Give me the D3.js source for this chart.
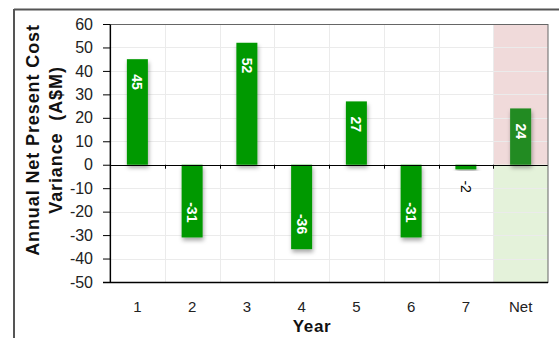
<!DOCTYPE html>
<html>
<head>
<meta charset="utf-8">
<script src="https://cdn.jsdelivr.net/npm/d3@7"></script>
<style>
  html, body { margin: 0; padding: 0; background: #fff; }
  svg { display: block; font-family: "Liberation Sans", Arial, sans-serif; }
  .pre { white-space: pre; }
</style>
</head>
<body>
<svg id="chart" width="559" height="338"></svg>
<script>
// Yearly NPC variance, plus the net total
const years = ["1", "2", "3", "4", "5", "6", "7", "Net"];
const variance = [45, -31, 52, -36, 27, -31, -2, 24];
const yTicks = [60, 50, 40, 30, 20, 10, 0, -10, -20, -30, -40, -50];
const yTitleLines = ["Annual Net Present Cost", "Variance  (A$M)"];
const xTitle = "Year";

const svg = d3.select("#chart");
const plot = { left: 110, top: 24, right: 548, bottom: 282 };

const x = d3.scaleBand().domain(years).range([plot.left, plot.right]);
const y = d3.scaleLinear().domain([-50, 60]).range([plot.bottom, plot.top]);

// soft drop shadow under bars
const defs = svg.append("defs");
const f = defs.append("filter").attr("id", "shadow")
  .attr("x", "-30%").attr("y", "-30%").attr("width", "160%").attr("height", "160%");
f.append("feDropShadow").attr("dx", 1).attr("dy", 3).attr("stdDeviation", 2)
  .attr("flood-color", "#000").attr("flood-opacity", 0.35);

// outer frame
svg.append("line").attr("x1", 14).attr("x2", 559).attr("y1", 9.5).attr("y2", 9.5)
  .attr("stroke", "#555").attr("stroke-width", 2);
svg.append("line").attr("x1", 14).attr("x2", 14).attr("y1", 9).attr("y2", 338)
  .attr("stroke", "#555").attr("stroke-width", 2);

// net column shading: pink above zero, pale green below
const netX = x("Net");
svg.append("rect").attr("x", netX).attr("y", y(60)).attr("width", plot.right - netX)
  .attr("height", y(0) - y(60)).attr("fill", "#f0dada");
svg.append("rect").attr("x", netX).attr("y", y(0)).attr("width", plot.right - netX)
  .attr("height", y(-50) - y(0)).attr("fill", "#e4f2da");

// grid
svg.append("g").selectAll("line").data(yTicks).join("line")
  .attr("x1", plot.left).attr("x2", plot.right)
  .attr("y1", d => Math.round(y(d)) + 0.5).attr("y2", d => Math.round(y(d)) + 0.5)
  .attr("stroke", "#ebebeb").attr("stroke-width", 1);
svg.append("g").selectAll("line").data(years.slice(1)).join("line")
  .attr("x1", d => Math.round(x(d)) + 0.5).attr("x2", d => Math.round(x(d)) + 0.5)
  .attr("y1", plot.top).attr("y2", plot.bottom)
  .attr("stroke", "#ebebeb").attr("stroke-width", 1);

// bars
const bw = 21;
svg.append("g").selectAll("rect").data(years).join("rect")
  .attr("x", d => x(d) + x.bandwidth() / 2 - bw / 2)
  .attr("y", (d, i) => y(Math.max(0, variance[i])))
  .attr("width", bw)
  .attr("height", (d, i) => Math.abs(y(variance[i]) - y(0)))
  .attr("fill", d => d === "Net" ? "#228b22" : "#009900")
  .attr("filter", "url(#shadow)");

// small ticks at band boundaries below the zero line
svg.append("g").selectAll("line").data(years.slice(1)).join("line")
  .attr("x1", d => Math.round(x(d)) + 0.5).attr("x2", d => Math.round(x(d)) + 0.5)
  .attr("y1", y(0)).attr("y2", y(0) + 4)
  .attr("stroke", "#000").attr("stroke-width", 1);

// zero line
svg.append("line").attr("x1", plot.left).attr("x2", plot.right)
  .attr("y1", Math.round(y(0)) + 0.5).attr("y2", Math.round(y(0)) + 0.5)
  .attr("stroke", "#000").attr("stroke-width", 1.2);

// plot border
svg.append("rect").attr("x", plot.left).attr("y", plot.top + 0.5)
  .attr("width", plot.right - plot.left).attr("height", plot.bottom - plot.top)
  .attr("fill", "none").attr("stroke", "#666").attr("stroke-width", 1);

// value labels, rotated to read top to bottom
svg.append("g").selectAll("text").data(years).join("text")
  .each(function (d, i) {
    const v = variance[i];
    const cx = x(d) + x.bandwidth() / 2;
    const barLen = Math.abs(y(v) - y(0));
    const sel = d3.select(this);
    sel.attr("font-size", 14).attr("font-weight", "bold").attr("dominant-baseline", "central");
    if (barLen > 30) {
      let ty;
      if (v >= 0) { ty = y(v) + 15; sel.attr("text-anchor", "start"); }
      else { ty = y(v) - 15; sel.attr("text-anchor", "end"); }
      sel.attr("fill", "#fff")
        .attr("transform", `translate(${cx},${ty}) rotate(90)`);
    } else {
      const ty = y(v) + 11;
      sel.attr("fill", "#000").attr("font-weight", "normal").attr("text-anchor", "start")
        .attr("transform", `translate(${cx},${ty}) rotate(90)`);
    }
    sel.text(String(v));
  });

// y axis
const yAxis = svg.append("g").attr("transform", `translate(${plot.left},0)`)
  .call(d3.axisLeft(y).tickValues(yTicks).tickFormat(d => String(d))
    .tickSize(7).tickPadding(10).tickSizeOuter(0));
yAxis.select(".domain").attr("stroke", "#000").attr("stroke-width", 1.2);
yAxis.selectAll(".tick line").attr("stroke", "#000");
yAxis.selectAll(".tick text").attr("fill", "#222")
  .style("font-size", "16px")
  .style("font-family", "'Liberation Sans', Arial, sans-serif");

// bottom rule
svg.append("line").attr("x1", plot.left - 7).attr("x2", plot.right)
  .attr("y1", plot.bottom + 0.5).attr("y2", plot.bottom + 0.5)
  .attr("stroke", "#000").attr("stroke-width", 1.6);

// x category labels
svg.append("g").selectAll("text").data(years).join("text")
  .attr("x", d => x(d) + x.bandwidth() / 2)
  .attr("y", 312)
  .attr("text-anchor", "middle")
  .attr("font-size", 15).attr("fill", "#222")
  .text(d => d);

// axis titles
svg.append("text").attr("x", 312).attr("y", 332)
  .attr("text-anchor", "middle").attr("font-size", 17).attr("font-weight", "bold")
  .attr("letter-spacing", 0.6)
  .attr("fill", "#111").text(xTitle);

svg.append("g").selectAll("text").data(yTitleLines).join("text")
  .attr("class", "pre")
  .attr("transform", (d, i) => `translate(${39 + i * 23},140) rotate(-90)`)
  .attr("text-anchor", "middle").attr("font-size", 18).attr("font-weight", "bold")
  .attr("letter-spacing", 0.9)
  .attr("fill", "#111").text(d => d);
</script>
</body>
</html>
